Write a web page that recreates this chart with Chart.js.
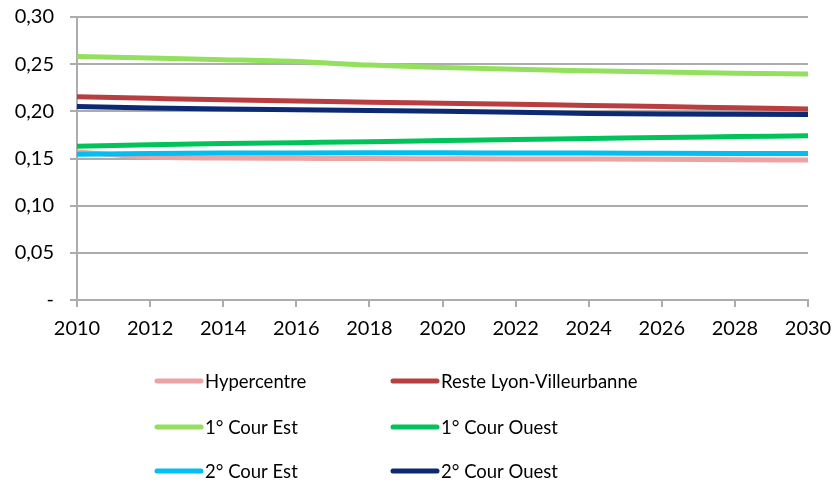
<!DOCTYPE html>
<html>
<head>
<meta charset="utf-8">
<script src="https://cdn.jsdelivr.net/npm/chart.js@4/dist/chart.umd.min.js"></script>
<style>
  html, body { margin: 0; padding: 0; background: #fff; }
  #wrap { width: 834px; height: 485px; position: relative; }
</style>
</head>
<body>
<div id="wrap"><canvas id="chart"></canvas></div>
<script>
// Years on the x axis (every two years)
const years = ['2010', '2012', '2014', '2016', '2018', '2020', '2022', '2024', '2026', '2028', '2030'];

// Series, one value per year above
const hypercentre   = [0.157, 0.1515, 0.1505, 0.1502, 0.1499, 0.1497, 0.1495, 0.1494, 0.1492, 0.1488, 0.1483];
const resteLyonVill = [0.2155, 0.2138, 0.2122, 0.2110, 0.2097, 0.2086, 0.2074, 0.2063, 0.2050, 0.2038, 0.2025];
const cour1Est      = [0.258, 0.2565, 0.2548, 0.2528, 0.2490, 0.2465, 0.2445, 0.2430, 0.2416, 0.2405, 0.2396];
const cour1Ouest    = [0.163, 0.1645, 0.1658, 0.1668, 0.1678, 0.1690, 0.1702, 0.1712, 0.1723, 0.1732, 0.1741];
const cour2Est      = [0.1545, 0.1552, 0.1557, 0.1559, 0.1560, 0.1560, 0.1559, 0.1558, 0.1556, 0.1554, 0.1553];
const cour2Ouest    = [0.2052, 0.2036, 0.2025, 0.2017, 0.2009, 0.2000, 0.1990, 0.1978, 0.1971, 0.1968, 0.1967];

const seriesNames  = ['Hypercentre', 'Reste Lyon-Villeurbanne', '1° Cour Est', '1° Cour Ouest', '2° Cour Est', '2° Cour Ouest'];
const seriesValues = [hypercentre, resteLyonVill, cour1Est, cour1Ouest, cour2Est, cour2Ouest];
const seriesColors = ['#eba3a3', '#b83e40', '#92e05e', '#00c45a', '#00bff2', '#0c2a74'];

const FONT = 'Lato, "Open Sans", sans-serif';
const GRID = '#acacac';

// Two-column legend under the plot, drawn straight onto the canvas
const gridLegend = {
    id: 'gridLegend',
    afterDraw(chart) {
        const ctx = chart.ctx;
        const colX = [157, 393];
        const rowY = [381, 427, 471];
        ctx.save();
        ctx.font = '18.5px ' + FONT;
        ctx.textBaseline = 'middle';
        ctx.textAlign = 'left';
        chart.data.datasets.forEach((ds, i) => {
            const x = colX[i % 2];
            const y = rowY[Math.floor(i / 2)];
            ctx.strokeStyle = ds.borderColor;
            ctx.lineWidth = 5;
            ctx.lineCap = 'round';
            ctx.beginPath();
            ctx.moveTo(x, y);
            ctx.lineTo(x + 44, y);
            ctx.stroke();
            ctx.fillStyle = '#000';
            ctx.fillText(ds.label, x + 48, y + 1);
        });
        ctx.restore();
    }
};

new Chart(document.getElementById('chart'), {
    type: 'line',
    data: {
        labels: years,
        datasets: seriesNames.map((name, i) => ({
            label: name,
            data: seriesValues[i],
            borderColor: seriesColors[i],
            backgroundColor: seriesColors[i],
            borderWidth: 5,
            pointRadius: 0,
            cubicInterpolationMode: 'monotone',
            // later series sit on top
            order: seriesNames.length - i
        }))
    },
    options: {
        responsive: true,
        maintainAspectRatio: false,
        animation: false,
        layout: { padding: { top: 17, right: 26, bottom: 145, left: 0 } },
        plugins: {
            legend: { display: false },
            tooltip: { enabled: false }
        },
        scales: {
            x: {
                offset: false,
                grid: { drawOnChartArea: false, drawTicks: true, tickLength: 7, color: GRID, lineWidth: 2 },
                border: { display: true, color: GRID, width: 2 },
                ticks: {
                    color: '#000',
                    font: { family: FONT, size: 20 },
                    padding: 10,
                    maxRotation: 0,
                    autoSkip: false
                },
                afterFit: s => {
                    s.height = 40;
                    s.paddingLeft = 0;
                    s.paddingRight = 0;
                }
            },
            y: {
                min: 0,
                max: 0.30,
                grid: { color: GRID, lineWidth: 2, tickLength: 7 },
                border: { display: true, color: GRID, width: 2 },
                ticks: {
                    stepSize: 0.05,
                    color: '#000',
                    font: { family: FONT, size: 20 },
                    padding: 16,
                    callback: v => v === 0 ? '-' : v.toFixed(2).replace('.', ',')
                },
                afterFit: s => {
                    s.width = 77;
                    s.paddingTop = 0;
                    s.paddingBottom = 0;
                }
            }
        }
    },
    plugins: [gridLegend]
});
</script>
</body>
</html>
